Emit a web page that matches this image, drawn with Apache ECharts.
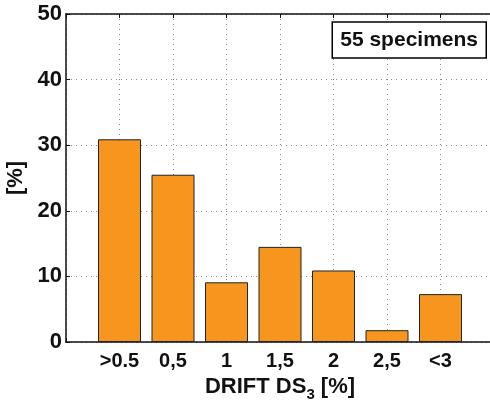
<!DOCTYPE html>
<html>
<head>
<meta charset="utf-8">
<script src="https://cdn.jsdelivr.net/npm/echarts@6/dist/echarts.min.js"></script>
<style>
html,body{margin:0;padding:0;background:#fff;}
#chart{width:490px;height:401px;}
</style>
</head>
<body>
<div id="chart"></div>
<script>
var categorias = ['>0.5', '0,5', '1', '1,5', '2', '2,5', '<3'];
var porcentajes = [30.9, 25.5, 9.1, 14.5, 10.9, 1.8, 7.3];
var yTicks = [0, 10, 20, 30, 40, 50];

var datos = [];
for (var i = 0; i < categorias.length; i++) {
	datos.push([i + 1, porcentajes[i]]);
}

var myChart = echarts.init(document.getElementById('chart'));
var fuente = '"Liberation Sans", Arial, sans-serif';

var option = {
	animation: false,
	textStyle: { fontFamily: fuente },
	title: {
		text: '55 specimens',
		right: 4,
		top: 22,
		borderColor: '#000',
		borderWidth: 1.5,
		backgroundColor: '#fff',
		padding: [8, 8, 7, 8],
		textStyle: { fontFamily: fuente, fontSize: 21, fontWeight: 'bold', color: '#111' }
	},
	grid: { left: 66, right: -4, top: 14, bottom: 59, outerBoundsMode: 'none', containLabel: false },
	xAxis: [
		{
			type: 'value',
			min: 0,
			max: 8,
			interval: 1,
			position: 'bottom',
			axisLine: { lineStyle: { color: '#111', width: 1.5 } },
			axisTick: { inside: true, length: 4, lineStyle: { color: '#111' } },
			axisLabel: {
				color: '#111',
				fontSize: 20,
				fontWeight: 'bold',
				margin: 9,
				formatter: function (v) { return categorias[v - 1] || ''; }
			},
			splitLine: { show: true, lineStyle: { color: '#888', type: [1, 4], width: 1 } },
			name: 'DRIFT DS{sub|3} [%]',
			nameLocation: 'middle',
			nameGap: 25,
			nameTextStyle: {
				color: '#111',
				fontSize: 22,
				fontWeight: 'bold',
				rich: {
					sub: { fontSize: 15, fontWeight: 'bold', color: '#111', padding: [16, 0, 0, 0] }
				}
			}
		},
		{
			type: 'value',
			min: 0,
			max: 8,
			interval: 1,
			position: 'top',
			axisLine: { show: true, lineStyle: { color: '#111', width: 1.5 } },
			axisTick: { show: true, inside: true, length: 4, lineStyle: { color: '#111' } },
			axisLabel: { show: false },
			splitLine: { show: false }
		}
	],
	yAxis: {
		type: 'value',
		min: 0,
		max: 50,
		interval: 10,
		axisLine: { show: true, lineStyle: { color: '#111', width: 1.5 } },
		axisTick: { show: true, inside: true, length: 4, lineStyle: { color: '#111' } },
		axisLabel: {
			color: '#111',
			fontSize: 22,
			fontWeight: 'bold',
			margin: 4,
			formatter: function (v) { return yTicks.indexOf(v) >= 0 ? String(v) : ''; }
		},
		splitLine: { show: true, lineStyle: { color: '#888', type: [1, 4], width: 1 } },
		name: '[%]',
		nameLocation: 'middle',
		nameGap: 30,
		nameRotate: 90,
		nameTextStyle: { color: '#111', fontSize: 22, fontWeight: 'bold' }
	},
	series: [
		{
			name: 'Drift',
			type: 'bar',
			xAxisIndex: 0,
			barWidth: 43,
			data: datos,
			itemStyle: { color: '#F7961F', borderColor: '#222', borderWidth: 1 }
		}
	]
};

myChart.setOption(option, true);
</script>
</body>
</html>
